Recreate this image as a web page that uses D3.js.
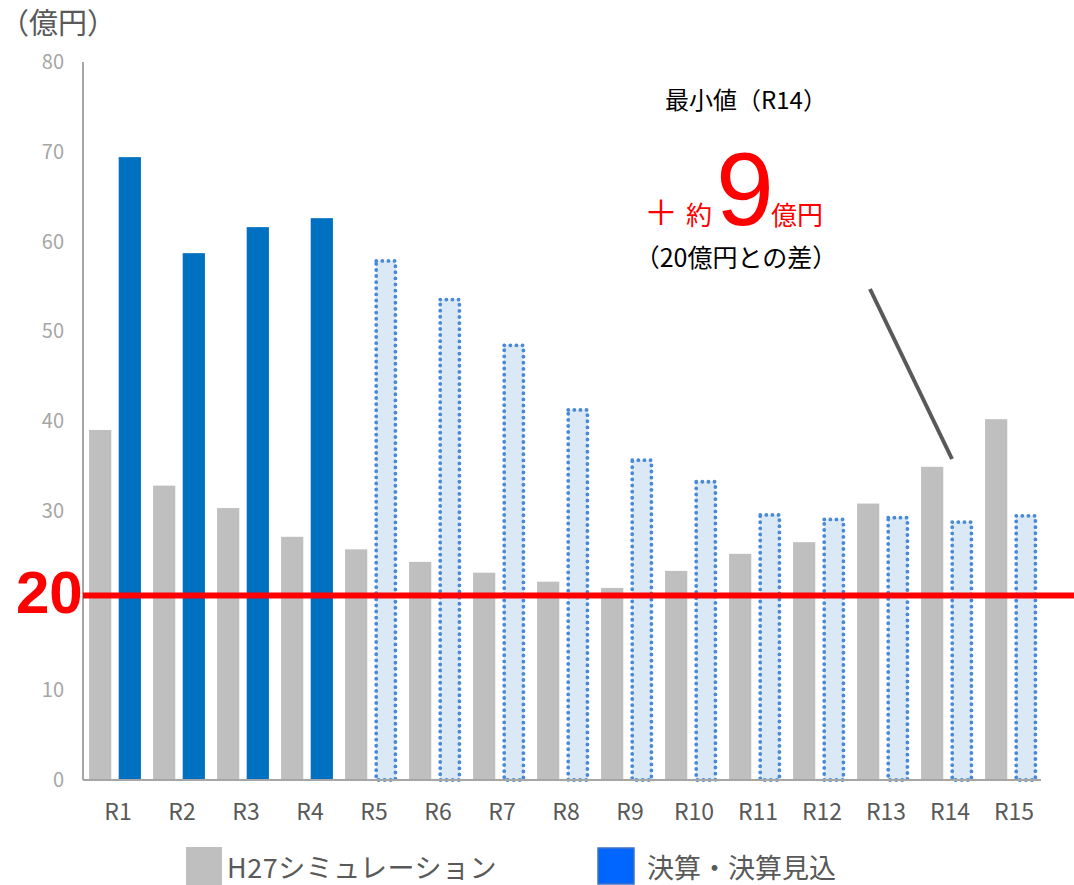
<!DOCTYPE html>
<html><head><meta charset="utf-8">
<script src="https://cdn.jsdelivr.net/npm/d3@7"></script>
<style>body{margin:0;background:#fff}svg{display:block}</style>
</head><body>
<svg id="c" width="1074" height="885"></svg>
<script>
const categories = ["R1","R2","R3","R4","R5","R6","R7","R8","R9","R10","R11","R12","R13","R14","R15"];
const simValues = [39.0,32.8,30.3,27.1,25.7,24.3,23.1,22.1,21.4,23.3,25.2,26.5,30.8,34.9,40.2];
const actualValues = [69.4,58.7,61.6,62.6,58.0,53.7,48.6,41.4,35.8,33.4,29.7,29.2,29.4,28.9,29.6];
const isForecast = [false,false,false,false,true,true,true,true,true,true,true,true,true,true,true];
const yTicks = [0,10,20,30,40,50,60,70,80];
const threshold = 20;
const seriesNames = ["H27シミュレーション","決算・決算見込"];

const svg = d3.select("#c");
const font = "'Noto Sans CJK JP', 'Noto Sans', sans-serif";
const y = d3.scaleLinear().domain([0,80]).range([780,62]);
const x = d3.scaleBand().domain(categories).range([83,1043]).paddingInner(0.19).paddingOuter(0.095);
const x1 = d3.scaleBand().domain(["sim","act"]).range([0,x.bandwidth()]).paddingInner(0.25);

// y axis line
svg.append("line").attr("x1",83).attr("x2",83).attr("y1",y(80)).attr("y2",y(0))
  .attr("stroke","#a6a6a6").attr("stroke-width",2);
// y tick labels (the threshold tick is covered by the large red label)
svg.append("g").selectAll("text").data(yTicks.filter(d=>d!==threshold)).join("text")
  .attr("x",64).attr("y",d=>y(d)).attr("dy","0.35em").attr("text-anchor","end")
  .attr("font-family",font).attr("font-size",20).attr("fill","#a6a6a6").text(d=>d);

// sim bars
svg.append("g").selectAll("rect").data(categories).join("rect")
  .attr("x",d=>x(d)+x1("sim")).attr("width",x1.bandwidth())
  .attr("y",(d,i)=>y(simValues[i])).attr("height",(d,i)=>y(0)-y(simValues[i]))
  .attr("fill","#bfbfbf");
// actual bars
svg.append("g").selectAll("rect").data(categories).join("rect")
  .attr("x",(d,i)=>x(d)+x1("act")+(isForecast[i]?1.5:0)).attr("width",(d,i)=>x1.bandwidth()-(isForecast[i]?3:0))
  .attr("y",(d,i)=>y(actualValues[i])+(isForecast[i]?1.5:0)).attr("height",(d,i)=>y(0)-y(actualValues[i])-(isForecast[i]?1.5:0))
  .attr("fill",(d,i)=>isForecast[i]?"#dbe9f6":"#0070c0")
  .attr("stroke",(d,i)=>isForecast[i]?"#4a8ad4":"none")
  .attr("stroke-width",3.8).attr("stroke-dasharray","0.1,6").attr("stroke-linecap","round");

// baseline
svg.append("line").attr("x1",83).attr("x2",1041).attr("y1",y(0)).attr("y2",y(0))
  .attr("stroke","#a6a6a6").attr("stroke-width",2);

// x labels
svg.append("g").selectAll("text").data(categories).join("text")
  .attr("x",d=>x(d)+x.bandwidth()/2+3).attr("y",820).attr("text-anchor","middle")
  .attr("font-family",font).attr("font-size",23).attr("fill","#595959").text(d=>d);

// threshold line
svg.append("line").attr("x1",83).attr("x2",1074).attr("y1",y(threshold)-5).attr("y2",y(threshold)-5)
  .attr("stroke","#ff0000").attr("stroke-width",6);
svg.append("text").attr("x",16).attr("y",613).attr("font-family","'Liberation Sans', Arial, sans-serif")
  .attr("font-weight","bold").attr("font-size",60).attr("fill","#ff0000").text(threshold);

// unit label
svg.append("text").attr("x",0).attr("y",34).attr("font-family",font).attr("font-size",29)
  .attr("fill","#595959").text("（億円）");

// annotation
svg.append("text").attr("x",746).attr("y",109).attr("text-anchor","middle").attr("font-family",font)
  .attr("font-size",24).attr("fill","#000").text("最小値（R14）");
const ann = svg.append("text").attr("y",225).attr("font-family",font).attr("fill","#ff0000");
ann.append("tspan").attr("x",644).attr("font-size",34).text("＋");
ann.append("tspan").attr("x",686).attr("font-size",26).text("約");
ann.append("tspan").attr("x",716).attr("font-size",104).attr("font-family","'Liberation Sans', Arial, sans-serif").text("9");
ann.append("tspan").attr("x",771).attr("font-size",26).text("億円");
svg.append("text").attr("x",736).attr("y",267).attr("text-anchor","middle").attr("font-family",font)
  .attr("font-size",25).attr("fill","#000").text("（20億円との差）");
svg.append("line").attr("x1",870).attr("y1",289).attr("x2",952).attr("y2",459)
  .attr("stroke","#595959").attr("stroke-width",4);

// legend
svg.append("rect").attr("x",186).attr("y",847).attr("width",36).attr("height",38).attr("fill","#bfbfbf");
svg.append("text").attr("x",227).attr("y",878).attr("font-family",font).attr("font-size",27)
  .attr("fill","#595959").attr("letter-spacing",0.5).text(seriesNames[0]);
svg.append("rect").attr("x",598).attr("y",848).attr("width",36).attr("height",36).attr("fill","#0066ff")
  .attr("stroke","#4472c4").attr("stroke-width",1.5);
svg.append("text").attr("x",647).attr("y",878).attr("font-family",font).attr("font-size",27)
  .attr("fill","#595959").text(seriesNames[1]);
</script>
</body></html>
